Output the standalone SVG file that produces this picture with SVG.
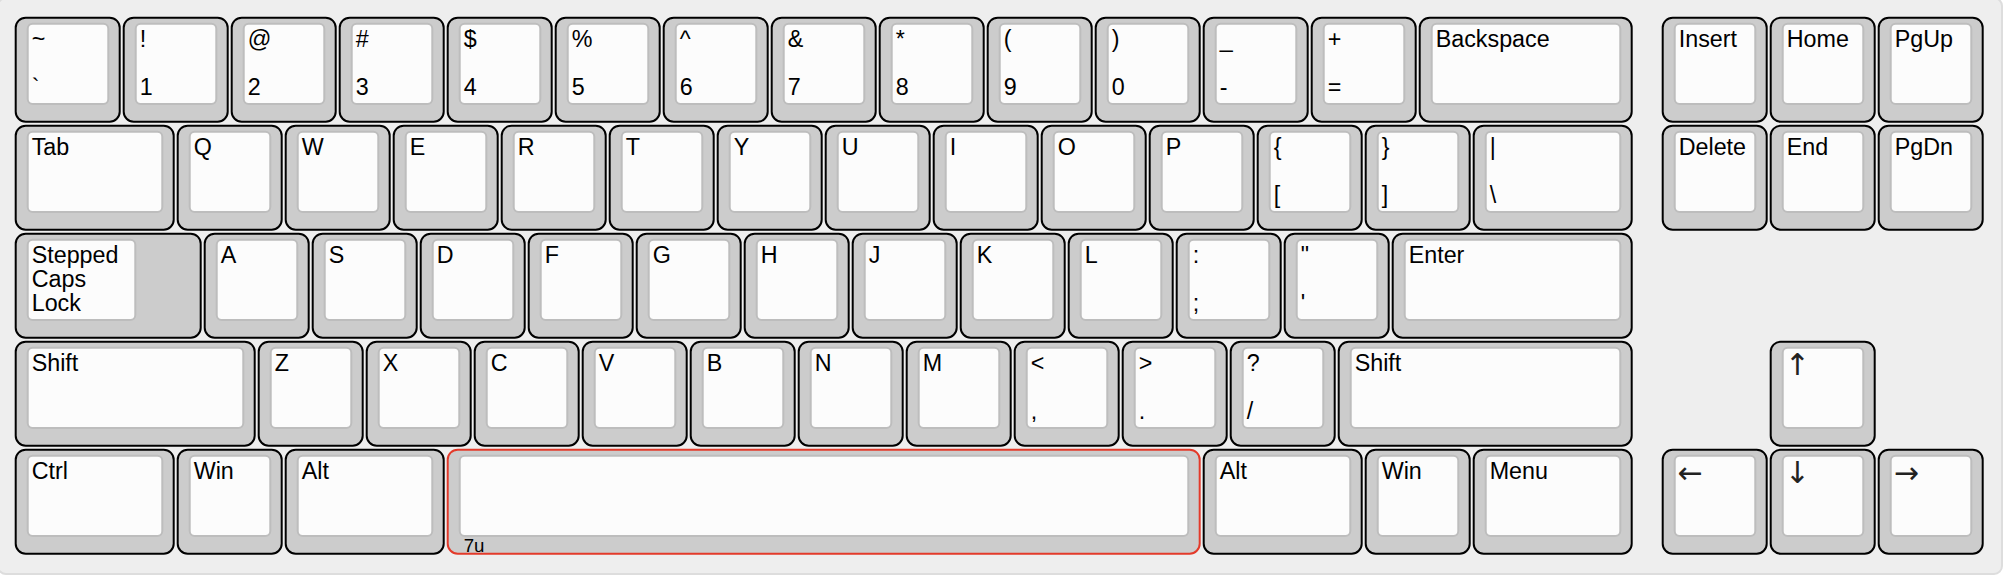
<svg xmlns="http://www.w3.org/2000/svg" xmlns:xlink="http://www.w3.org/1999/xlink" width="2004" height="586" viewBox="0 0 2004 586">
<style>
.o{fill:#cccccc;stroke:#000;stroke-width:2}
.sel{stroke:#e33a2a}
.i{fill:#fcfcfc;stroke:#bdbdbd;stroke-width:2}
text{font-family:"Liberation Sans",Arial,Helvetica,sans-serif;font-size:23.3px;fill:#000}
.f{font-size:18.7px}
.ar{font-family:"DejaVu Sans",sans-serif;font-size:30px;fill:#222}
</style>
<defs>
<g id="u1"><rect class="o" x="0" y="0" width="104" height="104" rx="10"/><rect class="i" x="12" y="6" width="80.6" height="80.3" rx="5"/></g>
<g id="u15"><rect class="o" x="0" y="0" width="158" height="104" rx="10"/><rect class="i" x="12" y="6" width="134.6" height="80.3" rx="5"/></g>
<g id="u2"><rect class="o" x="0" y="0" width="212" height="104" rx="10"/><rect class="i" x="12" y="6" width="188.6" height="80.3" rx="5"/></g>
<g id="u225"><rect class="o" x="0" y="0" width="239" height="104" rx="10"/><rect class="i" x="12" y="6" width="215.6" height="80.3" rx="5"/></g>
<g id="u275"><rect class="o" x="0" y="0" width="293" height="104" rx="10"/><rect class="i" x="12" y="6" width="269.6" height="80.3" rx="5"/></g>
</defs>
<rect x="-2" y="-2" width="2004" height="576" rx="8" fill="#eeeeee" stroke="#dddddd" stroke-width="2"/>
<g id="connectors"/>
<g transform="translate(15.7 17.7)">
<!-- row 0 -->
<g id="k-tilde" transform="translate(0 0)"><use xlink:href="#u1"/><text x="16" y="29">~</text><text x="16" y="77">`</text></g>
<g id="k-1" transform="translate(108 0)"><use xlink:href="#u1"/><text x="16" y="29">!</text><text x="16" y="77">1</text></g>
<g id="k-2" transform="translate(216 0)"><use xlink:href="#u1"/><text x="16" y="29">@</text><text x="16" y="77">2</text></g>
<g id="k-3" transform="translate(324 0)"><use xlink:href="#u1"/><text x="16" y="29">#</text><text x="16" y="77">3</text></g>
<g id="k-4" transform="translate(432 0)"><use xlink:href="#u1"/><text x="16" y="29">$</text><text x="16" y="77">4</text></g>
<g id="k-5" transform="translate(540 0)"><use xlink:href="#u1"/><text x="16" y="29">%</text><text x="16" y="77">5</text></g>
<g id="k-6" transform="translate(648 0)"><use xlink:href="#u1"/><text x="16" y="29">^</text><text x="16" y="77">6</text></g>
<g id="k-7" transform="translate(756 0)"><use xlink:href="#u1"/><text x="16" y="29">&amp;</text><text x="16" y="77">7</text></g>
<g id="k-8" transform="translate(864 0)"><use xlink:href="#u1"/><text x="16" y="29">*</text><text x="16" y="77">8</text></g>
<g id="k-9" transform="translate(972 0)"><use xlink:href="#u1"/><text x="16" y="29">(</text><text x="16" y="77">9</text></g>
<g id="k-0" transform="translate(1080 0)"><use xlink:href="#u1"/><text x="16" y="29">)</text><text x="16" y="77">0</text></g>
<g id="k-minus" transform="translate(1188 0)"><use xlink:href="#u1"/><text x="16" y="29">_</text><text x="16" y="77">-</text></g>
<g id="k-equal" transform="translate(1296 0)"><use xlink:href="#u1"/><text x="16" y="29">+</text><text x="16" y="77">=</text></g>
<g id="k-backspace" transform="translate(1404 0)"><use xlink:href="#u2"/><text x="16" y="29">Backspace</text></g>
<g id="k-insert" transform="translate(1647 0)"><use xlink:href="#u1"/><text x="16" y="29">Insert</text></g>
<g id="k-home" transform="translate(1755 0)"><use xlink:href="#u1"/><text x="16" y="29">Home</text></g>
<g id="k-pgup" transform="translate(1863 0)"><use xlink:href="#u1"/><text x="16" y="29">PgUp</text></g>
<!-- row 1 -->
<g id="k-tab" transform="translate(0 108)"><use xlink:href="#u15"/><text x="16" y="29">Tab</text></g>
<g id="k-q" transform="translate(162 108)"><use xlink:href="#u1"/><text x="16" y="29">Q</text></g>
<g id="k-w" transform="translate(270 108)"><use xlink:href="#u1"/><text x="16" y="29">W</text></g>
<g id="k-e" transform="translate(378 108)"><use xlink:href="#u1"/><text x="16" y="29">E</text></g>
<g id="k-r" transform="translate(486 108)"><use xlink:href="#u1"/><text x="16" y="29">R</text></g>
<g id="k-t" transform="translate(594 108)"><use xlink:href="#u1"/><text x="16" y="29">T</text></g>
<g id="k-y" transform="translate(702 108)"><use xlink:href="#u1"/><text x="16" y="29">Y</text></g>
<g id="k-u" transform="translate(810 108)"><use xlink:href="#u1"/><text x="16" y="29">U</text></g>
<g id="k-i" transform="translate(918 108)"><use xlink:href="#u1"/><text x="16" y="29">I</text></g>
<g id="k-o" transform="translate(1026 108)"><use xlink:href="#u1"/><text x="16" y="29">O</text></g>
<g id="k-p" transform="translate(1134 108)"><use xlink:href="#u1"/><text x="16" y="29">P</text></g>
<g id="k-lbracket" transform="translate(1242 108)"><use xlink:href="#u1"/><text x="16" y="29">{</text><text x="16" y="77">[</text></g>
<g id="k-rbracket" transform="translate(1350 108)"><use xlink:href="#u1"/><text x="16" y="29">}</text><text x="16" y="77">]</text></g>
<g id="k-backslash" transform="translate(1458 108)"><use xlink:href="#u15"/><text x="16" y="29">|</text><text x="16" y="77">\</text></g>
<g id="k-delete" transform="translate(1647 108)"><use xlink:href="#u1"/><text x="16" y="29">Delete</text></g>
<g id="k-end" transform="translate(1755 108)"><use xlink:href="#u1"/><text x="16" y="29">End</text></g>
<g id="k-pgdn" transform="translate(1863 108)"><use xlink:href="#u1"/><text x="16" y="29">PgDn</text></g>
<!-- row 2 -->
<g id="k-caps" transform="translate(0 216)"><rect class="o" x="0" y="0" width="185" height="104" rx="10"/><rect class="i" x="12" y="6" width="107.6" height="80.3" rx="5"/><text x="16" y="29">Stepped</text><text x="16" y="53">Caps</text><text x="16" y="77">Lock</text></g>
<g id="k-a" transform="translate(189 216)"><use xlink:href="#u1"/><text x="16" y="29">A</text></g>
<g id="k-s" transform="translate(297 216)"><use xlink:href="#u1"/><text x="16" y="29">S</text></g>
<g id="k-d" transform="translate(405 216)"><use xlink:href="#u1"/><text x="16" y="29">D</text></g>
<g id="k-f" transform="translate(513 216)"><use xlink:href="#u1"/><text x="16" y="29">F</text></g>
<g id="k-g" transform="translate(621 216)"><use xlink:href="#u1"/><text x="16" y="29">G</text></g>
<g id="k-h" transform="translate(729 216)"><use xlink:href="#u1"/><text x="16" y="29">H</text></g>
<g id="k-j" transform="translate(837 216)"><use xlink:href="#u1"/><text x="16" y="29">J</text></g>
<g id="k-k" transform="translate(945 216)"><use xlink:href="#u1"/><text x="16" y="29">K</text></g>
<g id="k-l" transform="translate(1053 216)"><use xlink:href="#u1"/><text x="16" y="29">L</text></g>
<g id="k-semicolon" transform="translate(1161 216)"><use xlink:href="#u1"/><text x="16" y="29">:</text><text x="16" y="77">;</text></g>
<g id="k-quote" transform="translate(1269 216)"><use xlink:href="#u1"/><text x="16" y="29">"</text><text x="16" y="77">'</text></g>
<g id="k-enter" transform="translate(1377 216)"><use xlink:href="#u225"/><text x="16" y="29">Enter</text></g>
<!-- row 3 -->
<g id="k-lshift" transform="translate(0 324)"><use xlink:href="#u225"/><text x="16" y="29">Shift</text></g>
<g id="k-z" transform="translate(243 324)"><use xlink:href="#u1"/><text x="16" y="29">Z</text></g>
<g id="k-x" transform="translate(351 324)"><use xlink:href="#u1"/><text x="16" y="29">X</text></g>
<g id="k-c" transform="translate(459 324)"><use xlink:href="#u1"/><text x="16" y="29">C</text></g>
<g id="k-v" transform="translate(567 324)"><use xlink:href="#u1"/><text x="16" y="29">V</text></g>
<g id="k-b" transform="translate(675 324)"><use xlink:href="#u1"/><text x="16" y="29">B</text></g>
<g id="k-n" transform="translate(783 324)"><use xlink:href="#u1"/><text x="16" y="29">N</text></g>
<g id="k-m" transform="translate(891 324)"><use xlink:href="#u1"/><text x="16" y="29">M</text></g>
<g id="k-comma" transform="translate(999 324)"><use xlink:href="#u1"/><text x="16" y="29">&lt;</text><text x="16" y="77">,</text></g>
<g id="k-period" transform="translate(1107 324)"><use xlink:href="#u1"/><text x="16" y="29">&gt;</text><text x="16" y="77">.</text></g>
<g id="k-slash" transform="translate(1215 324)"><use xlink:href="#u1"/><text x="16" y="29">?</text><text x="16" y="77">/</text></g>
<g id="k-rshift" transform="translate(1323 324)"><use xlink:href="#u275"/><text x="16" y="29">Shift</text></g>
<g id="k-up" transform="translate(1755 324)"><use xlink:href="#u1"/><text class="ar" x="14" y="33">↑</text></g>
<!-- row 4 -->
<g id="k-lctrl" transform="translate(0 432)"><use xlink:href="#u15"/><text x="16" y="29">Ctrl</text></g>
<g id="k-lwin" transform="translate(162 432)"><use xlink:href="#u1"/><text x="16" y="29">Win</text></g>
<g id="k-lalt" transform="translate(270 432)"><use xlink:href="#u15"/><text x="16" y="29">Alt</text></g>
<g id="k-space" transform="translate(432 432)"><rect class="o sel" x="0" y="0" width="752" height="104" rx="10"/><rect class="i" x="12" y="6" width="728.6" height="80.3" rx="5"/><text class="f" x="16" y="102">7u</text></g>
<g id="k-ralt" transform="translate(1188 432)"><use xlink:href="#u15"/><text x="16" y="29">Alt</text></g>
<g id="k-rwin" transform="translate(1350 432)"><use xlink:href="#u1"/><text x="16" y="29">Win</text></g>
<g id="k-menu" transform="translate(1458 432)"><use xlink:href="#u15"/><text x="16" y="29">Menu</text></g>
<g id="k-left" transform="translate(1647 432)"><use xlink:href="#u1"/><text class="ar" x="15" y="33">←</text></g>
<g id="k-down" transform="translate(1755 432)"><use xlink:href="#u1"/><text class="ar" x="14" y="33">↓</text></g>
<g id="k-right" transform="translate(1863 432)"><use xlink:href="#u1"/><text class="ar" x="15" y="33">→</text></g>
</g>
</svg>
